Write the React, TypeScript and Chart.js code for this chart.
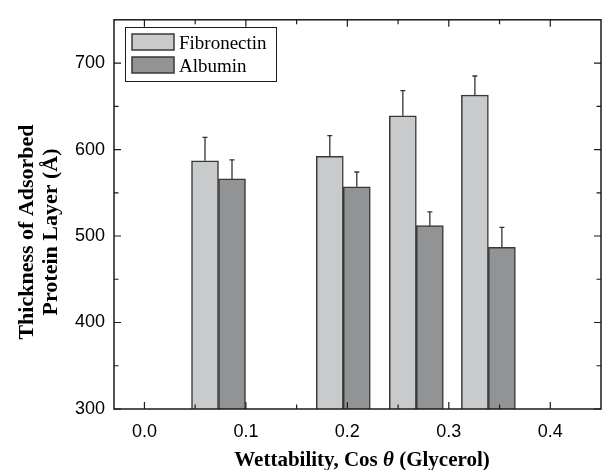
import React, { useEffect, useRef } from 'react';
import { Chart, registerables } from 'chart.js';

Chart.register(...registerables);

// ---- data ----
const seriesLabels = ['Fibronectin', 'Albumin'];
const wettability = [0.073, 0.196, 0.268, 0.339];
const fibronectin = [587, 592, 639, 663];
const fibronectinErr = [27, 24, 29, 22];
const albumin = [566, 557, 512, 487];
const albuminErr = [22, 17, 16, 23];
const xTicks = [0, 0.1, 0.2, 0.3, 0.4];
const xTickLabels = ['0.0', '0.1', '0.2', '0.3', '0.4'];
const xMinorTicks = [0.05, 0.15, 0.25, 0.35];
const yTicks = [300, 400, 500, 600, 700];
const yTickLabels = ['300', '400', '500', '600', '700'];
const yMinorTicks = [350, 450, 550, 650];
const yTitleLines = ['Thickness of Adsorbed', 'Protein Layer (Å)'];
const xTitleParts = ['Wettability, Cos ', 'θ', ' (Glycerol)'];

// ---- styles ----
const FIB = '#c9cacc';
const ALB = '#929395';
const EDGE = '#383838';
const INK = '#1a1a1a';
const SERIF = '"Liberation Serif", "Times New Roman", serif';
const SANS = '"Liberation Sans", Arial, sans-serif';

const decorPlugin = {
  id: 'decor',
  afterDatasetsDraw(chart: any) {
    const ctx = chart.ctx;
    const yScale = chart.scales.y;
    ctx.save();
    ctx.strokeStyle = '#333';
    ctx.lineWidth = 1.3;
    chart.data.datasets.forEach((ds: any, di: number) => {
      const meta = chart.getDatasetMeta(di);
      meta.data.forEach((el: any, i: number) => {
        const v = ds.data[i].y;
        const e = ds.errors[i];
        const yTop = yScale.getPixelForValue(v + e);
        ctx.beginPath();
        ctx.moveTo(el.x, el.y);
        ctx.lineTo(el.x, yTop);
        ctx.moveTo(el.x - 2.5, yTop);
        ctx.lineTo(el.x + 2.5, yTop);
        ctx.stroke();
      });
    });
    ctx.restore();
  },
  afterDraw(chart: any) {
    const ctx = chart.ctx;
    const { left, right, top, bottom } = chart.chartArea;
    const xs = chart.scales.x;
    const ys = chart.scales.y;
    ctx.save();
    // frame
    ctx.strokeStyle = INK;
    ctx.lineWidth = 1.5;
    ctx.strokeRect(left, top, right - left, bottom - top);
    // ticks
    ctx.lineWidth = 1.2;
    ctx.beginPath();
    const xt = (vals: number[], len: number) => {
      vals.forEach((v) => {
        const p = xs.getPixelForValue(v);
        ctx.moveTo(p, bottom);
        ctx.lineTo(p, bottom - len);
        ctx.moveTo(p, top);
        ctx.lineTo(p, top + len);
      });
    };
    const yt = (vals: number[], len: number) => {
      vals.forEach((v) => {
        const p = ys.getPixelForValue(v);
        ctx.moveTo(left, p);
        ctx.lineTo(left + len, p);
        ctx.moveTo(right, p);
        ctx.lineTo(right - len, p);
      });
    };
    xt(xTicks, 7);
    xt(xMinorTicks, 4.5);
    yt(yTicks, 7);
    yt(yMinorTicks, 4.5);
    ctx.stroke();

    // legend
    ctx.lineWidth = 1;
    ctx.strokeStyle = INK;
    ctx.strokeRect(125.5, 27.5, 151, 54);
    const colors = [FIB, ALB];
    const rows = [34, 57];
    ctx.font = `19px ${SERIF}`;
    ctx.fillStyle = '#000';
    ctx.textAlign = 'left';
    ctx.textBaseline = 'alphabetic';
    seriesLabels.forEach((lab, i) => {
      ctx.fillStyle = colors[i];
      ctx.fillRect(132, rows[i], 42, 16);
      ctx.strokeStyle = EDGE;
      ctx.lineWidth = 1.5;
      ctx.strokeRect(132, rows[i], 42, 16);
      ctx.fillStyle = '#000';
      ctx.fillText(lab, 179, rows[i] + 14.5);
    });

    // y title
    ctx.font = `bold 22px ${SERIF}`;
    ctx.textAlign = 'center';
    const yBase = [33, 56.5];
    yTitleLines.forEach((line, i) => {
      ctx.save();
      ctx.translate(yBase[i], 232);
      ctx.rotate(-Math.PI / 2);
      ctx.fillText(line, 0, 0);
      ctx.restore();
    });

    // x title
    const fonts = [`bold 21px ${SERIF}`, `italic bold 21px ${SERIF}`, `bold 21px ${SERIF}`];
    let total = 0;
    const widths = xTitleParts.map((t, i) => {
      ctx.font = fonts[i];
      const w = ctx.measureText(t).width;
      total += w;
      return w;
    });
    let x = 362 - total / 2;
    ctx.textAlign = 'left';
    xTitleParts.forEach((t, i) => {
      ctx.font = fonts[i];
      ctx.fillText(t, x, 466);
      x += widths[i];
    });
    ctx.restore();
  },
};

export default function App() {
  const ref = useRef<HTMLCanvasElement | null>(null);
  useEffect(() => {
    document.body.style.margin = '0';
    const canvas = ref.current!;
    const chart = new Chart(canvas, {
      type: 'bar',
      data: {
        datasets: [
          {
            label: seriesLabels[0],
            data: wettability.map((x, i) => ({ x, y: fibronectin[i] })),
            backgroundColor: FIB,
            borderColor: EDGE,
            borderWidth: 1.5,
            barThickness: 27,
            errors: fibronectinErr,
          } as any,
          {
            label: seriesLabels[1],
            data: wettability.map((x, i) => ({ x, y: albumin[i] })),
            backgroundColor: ALB,
            borderColor: EDGE,
            borderWidth: 1.5,
            barThickness: 27,
            errors: albuminErr,
          } as any,
        ],
      },
      options: {
        animation: false,
        responsive: false,
        maintainAspectRatio: false,
        layout: { padding: { top: 13, right: 1, left: 0, bottom: 0 } },
        plugins: { legend: { display: false }, tooltip: { enabled: false } },
        scales: {
          x: {
            type: 'linear',
            min: -0.03,
            max: 0.45,
            offset: false,
            grid: { display: false, drawTicks: false },
            border: { display: false },
            afterBuildTicks: (s: any) => {
              s.ticks = xTicks.map((v) => ({ value: v }));
            },
            ticks: {
              callback: (v: any) => xTickLabels[xTicks.findIndex((t) => Math.abs(t - v) < 1e-9)],
              font: { family: SANS, size: 18 },
              color: '#000',
              padding: 12,
              maxRotation: 0,
              autoSkip: false,
            },
            afterFit: (s: any) => {
              s.height = 61;
            },
          },
          y: {
            type: 'linear',
            min: 300,
            max: 750,
            grid: { display: false, drawTicks: false },
            border: { display: false },
            afterBuildTicks: (s: any) => {
              s.ticks = yTicks.map((v) => ({ value: v }));
            },
            ticks: {
              callback: (v: any) => yTickLabels[yTicks.indexOf(v)],
              font: { family: SANS, size: 18 },
              color: '#000',
              padding: 9,
              autoSkip: false,
            },
            afterFit: (s: any) => {
              s.width = 114;
            },
          },
        },
      } as any,
      plugins: [decorPlugin],
    });
    return () => chart.destroy();
  }, []);
  return <canvas ref={ref} width={602} height={470} style={{ display: 'block' }} />;
}
